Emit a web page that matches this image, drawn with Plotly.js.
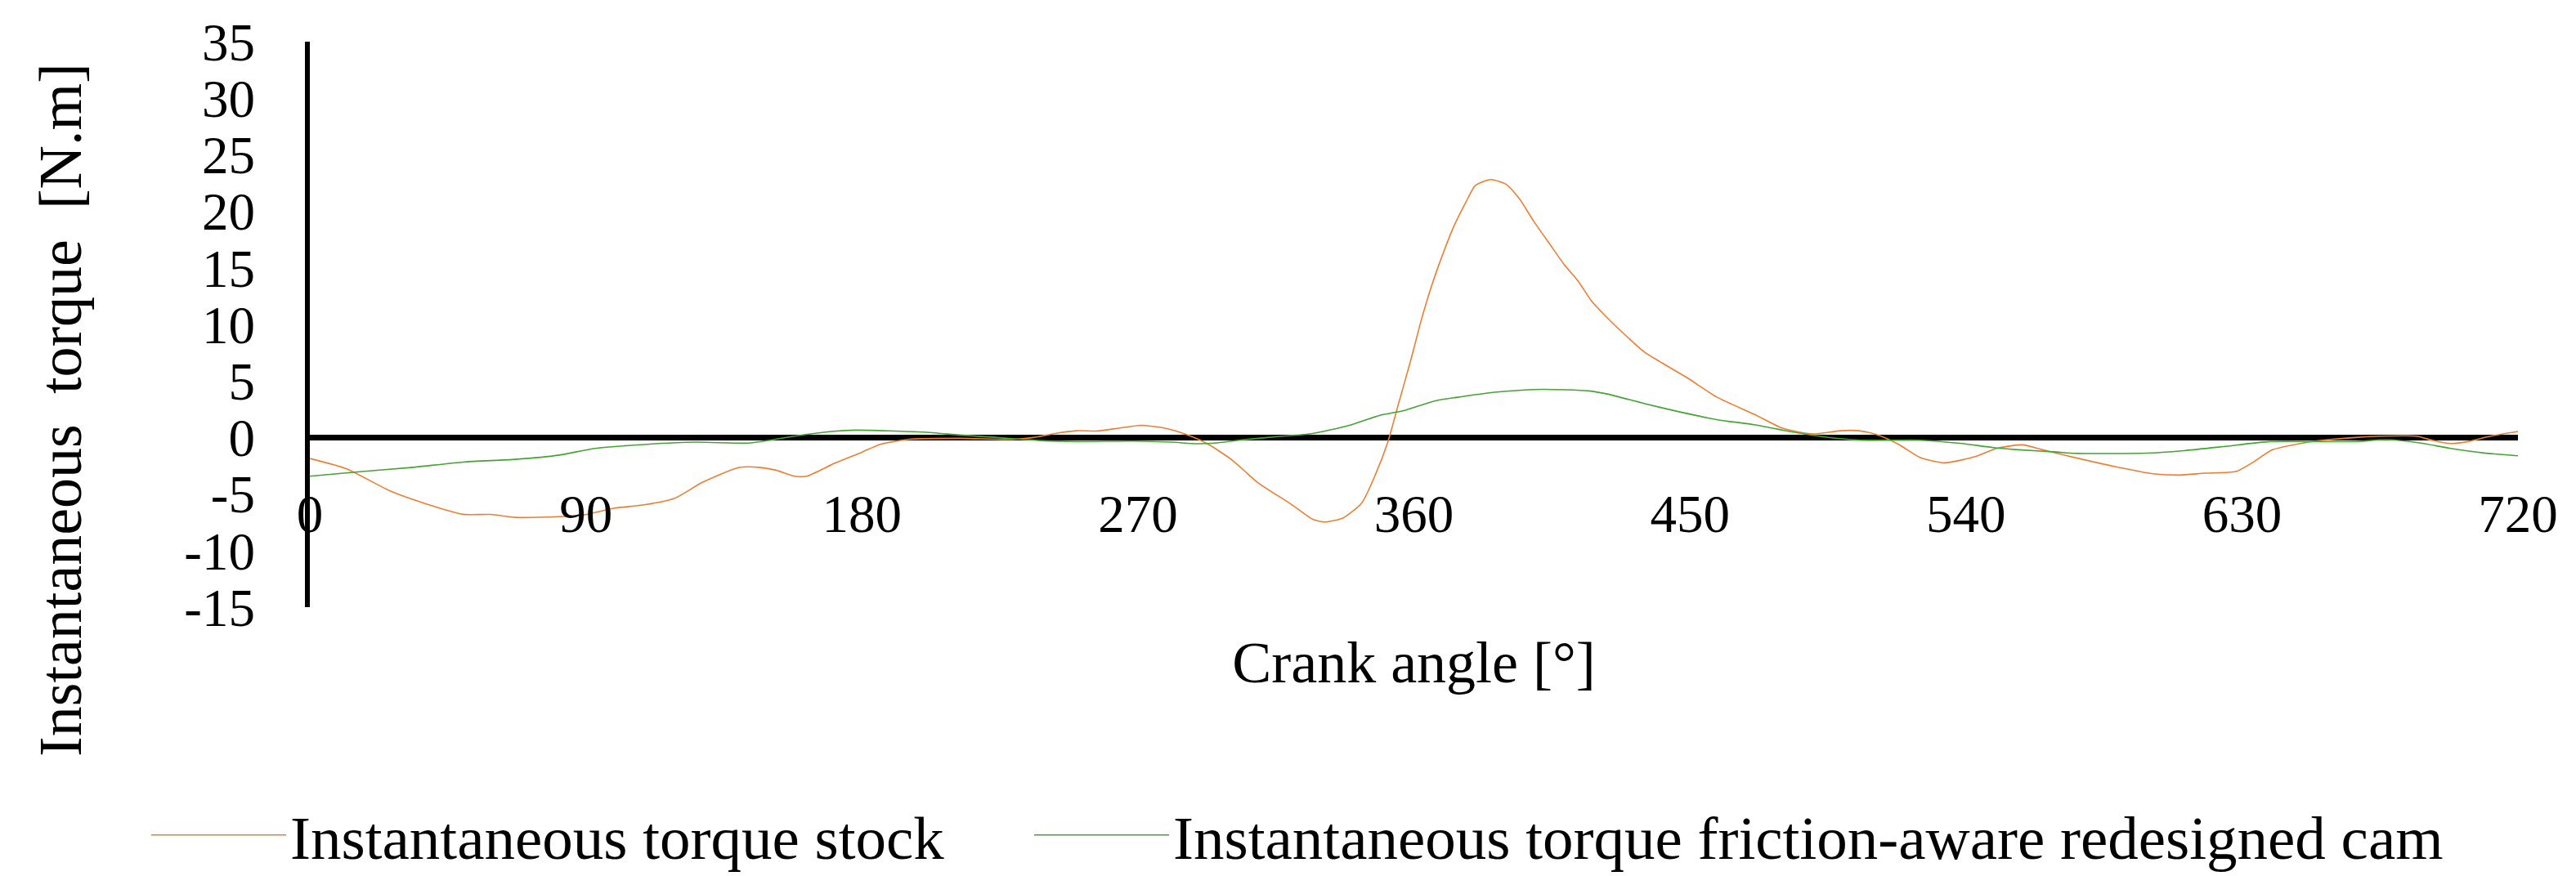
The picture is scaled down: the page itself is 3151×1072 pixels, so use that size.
<!DOCTYPE html>
<html>
<head>
<meta charset="utf-8">
<script src="https://cdn.plot.ly/plotly-3.0.1.min.js"></script>
<style>
  body { margin: 0; background: #fff; }
  #chart { width: 3151px; height: 1072px; }
</style>
</head>
<body>
<div id="chart"></div>
<script>
// crank angle [deg] and torque [N.m]
const angleStock = [0, 12, 26, 37, 50, 59, 67, 81, 89, 99, 109, 119, 128, 140, 147, 152, 158, 162, 171, 180,
  186, 195, 212, 229, 236, 243, 250, 257, 264, 271, 278.5, 286, 293, 301, 309, 320, 327, 331, 337, 343,
  347.5, 351.5, 355, 359, 362.5, 366, 369.5, 373, 377, 380, 385, 390, 394.5, 399, 404, 409, 413.5, 418, 423, 430,
  435, 440, 449, 459, 471, 480, 490, 499, 505, 511, 518, 525, 533, 543, 550, 558.5, 565, 573, 588, 601,
  610, 618, 628, 633, 640, 649, 655, 667, 675, 687, 692, 698, 704, 711, 720];
const torqueStock = [-1.86, -2.77, -4.7, -5.78, -6.79, -6.8, -7.06, -7.0, -6.86, -6.26, -5.95, -5.37, -3.97, -2.65, -2.65, -2.89, -3.42, -3.42, -2.29, -1.3,
  -0.6, -0.17, -0.07, -0.17, 0.0, 0.36, 0.6, 0.58, 0.84, 1.08, 0.84, 0.24, -0.6, -2.05, -3.97, -5.9, -7.23, -7.47, -7.1, -5.78,
  -3.25, -0.4, 3.0, 6.86, 10.48, 13.6, 16.26, 18.66, 20.83, 22.28, 22.81, 22.4, 21.07, 19.15, 17.22, 15.3, 13.85, 12.04, 10.6, 8.79,
  7.59, 6.74, 5.3, 3.54, 2.05, 0.84, 0.31, 0.6, 0.6, 0.24, -0.6, -1.76, -2.24, -1.69, -0.96, -0.65, -1.08, -1.61, -2.53, -3.2,
  -3.32, -3.15, -3.01, -2.29, -1.08, -0.53, -0.29, 0.0, 0.12, 0.12, -0.24, -0.53, -0.34, 0.12, 0.53];

const angleCam = [0, 14, 33, 50, 67, 81, 93, 110, 126, 143, 150, 158, 170, 178, 200, 212, 224, 238, 250, 268,
  281, 289, 295, 303.5, 315, 327, 339, 348.5, 357, 367, 375.5, 387, 402, 417, 423, 435, 447, 459, 471, 482.5,
  494, 506, 525, 538, 549, 557, 569.5, 575.5, 599, 611, 624, 639, 655, 667, 677, 688, 698, 709, 720];
const torqueCam = [-3.42, -3.08, -2.65, -2.17, -1.93, -1.57, -0.96, -0.6, -0.41, -0.5, -0.24, 0.12, 0.53, 0.65, 0.48, 0.22, 0.0, -0.27, -0.36, -0.31,
  -0.41, -0.55, -0.5, -0.22, 0.07, 0.36, 1.08, 1.93, 2.4, 3.25, 3.61, 4.02, 4.26, 4.12, 3.85, 3.01, 2.24, 1.57, 1.13, 0.53,
  0.05, -0.24, -0.24, -0.51, -0.89, -1.08, -1.28, -1.4, -1.38, -1.16, -0.8, -0.36, -0.36, -0.36, -0.19, -0.48, -0.96, -1.37, -1.61];

const xTickVals = [0, 90, 180, 270, 360, 450, 540, 630, 720];
const yTickVals = [-15, -10, -5, 0, 5, 10, 15, 20, 25, 30, 35];
const yTickText = ['-15', '-10', '-5', '0', '5', '10', '15', '20', '25', '30', '35'];

const serif = 'Liberation Serif, Times New Roman, serif';
const W = 3151, H = 1072;
const B = 200;          // bottom margin kept for the legend
const A = H - B;        // height of the paper area used by the domains

const traces = [
  {
    x: angleStock, y: torqueStock, type: 'scatter', mode: 'lines',
    name: 'Instantaneous torque stock', legendwidth: 900,
    line: {color: '#EE7D31', width: 1.6, shape: 'spline', smoothing: 0.6}
  },
  {
    x: angleCam, y: torqueCam, type: 'scatter', mode: 'lines',
    name: 'Instantaneous torque friction-aware redesigned cam', legendwidth: 1570,
    line: {color: '#44A332', width: 1.6, shape: 'spline', smoothing: 0.6}
  }
];

// plot box placed with domains (pixel edges 379..3080 across, 51..743 down)
const layout = {
  width: W, height: H,
  margin: {l: 0, r: 0, t: 0, b: B, pad: 0},
  paper_bgcolor: '#fff', plot_bgcolor: '#fff',
  font: {family: serif, color: '#000', size: 64},
  showlegend: true,
  xaxis: {
    domain: [379 / W, 3080 / W],
    range: [0, 720], anchor: 'free', position: (A - 535) / A,
    showgrid: false, zeroline: false, showline: false, ticks: '',
    tickvals: xTickVals, ticktext: xTickVals.map(String),
    tickfont: {size: 65}, ticklabelstandoff: 50,
    title: {text: 'Crank angle [°]', font: {size: 72}, standoff: 120}
  },
  yaxis: {
    domain: [(A - 743) / A, (A - 51) / A],
    range: [-15, 35], showgrid: false,
    zeroline: true, zerolinecolor: '#000', zerolinewidth: 7,
    showline: true, linecolor: '#000', linewidth: 6, ticks: '',
    tickvals: yTickVals, ticktext: yTickText,
    tickfont: {size: 65}, ticklabelstandoff: 48
  },
  annotations: [{
    text: 'Instantaneous\u00a0\u00a0torque\u00a0\u00a0[N.m]',
    textangle: -90, showarrow: false,
    xref: 'paper', yref: 'paper',
    x: 74 / W, y: (A - 502) / A,
    xanchor: 'center', yanchor: 'middle',
    font: {size: 74}
  }],
  legend: {
    orientation: 'h', xref: 'container', yref: 'container',
    x: 180 / W, xanchor: 'left', y: 1 - 1022 / H, yanchor: 'middle',
    itemwidth: 165, entrywidthmode: 'pixels',
    font: {size: 75}, bgcolor: 'rgba(0,0,0,0)'
  }
};

Plotly.newPlot('chart', traces, layout, {staticPlot: true});
</script>
</body>
</html>
